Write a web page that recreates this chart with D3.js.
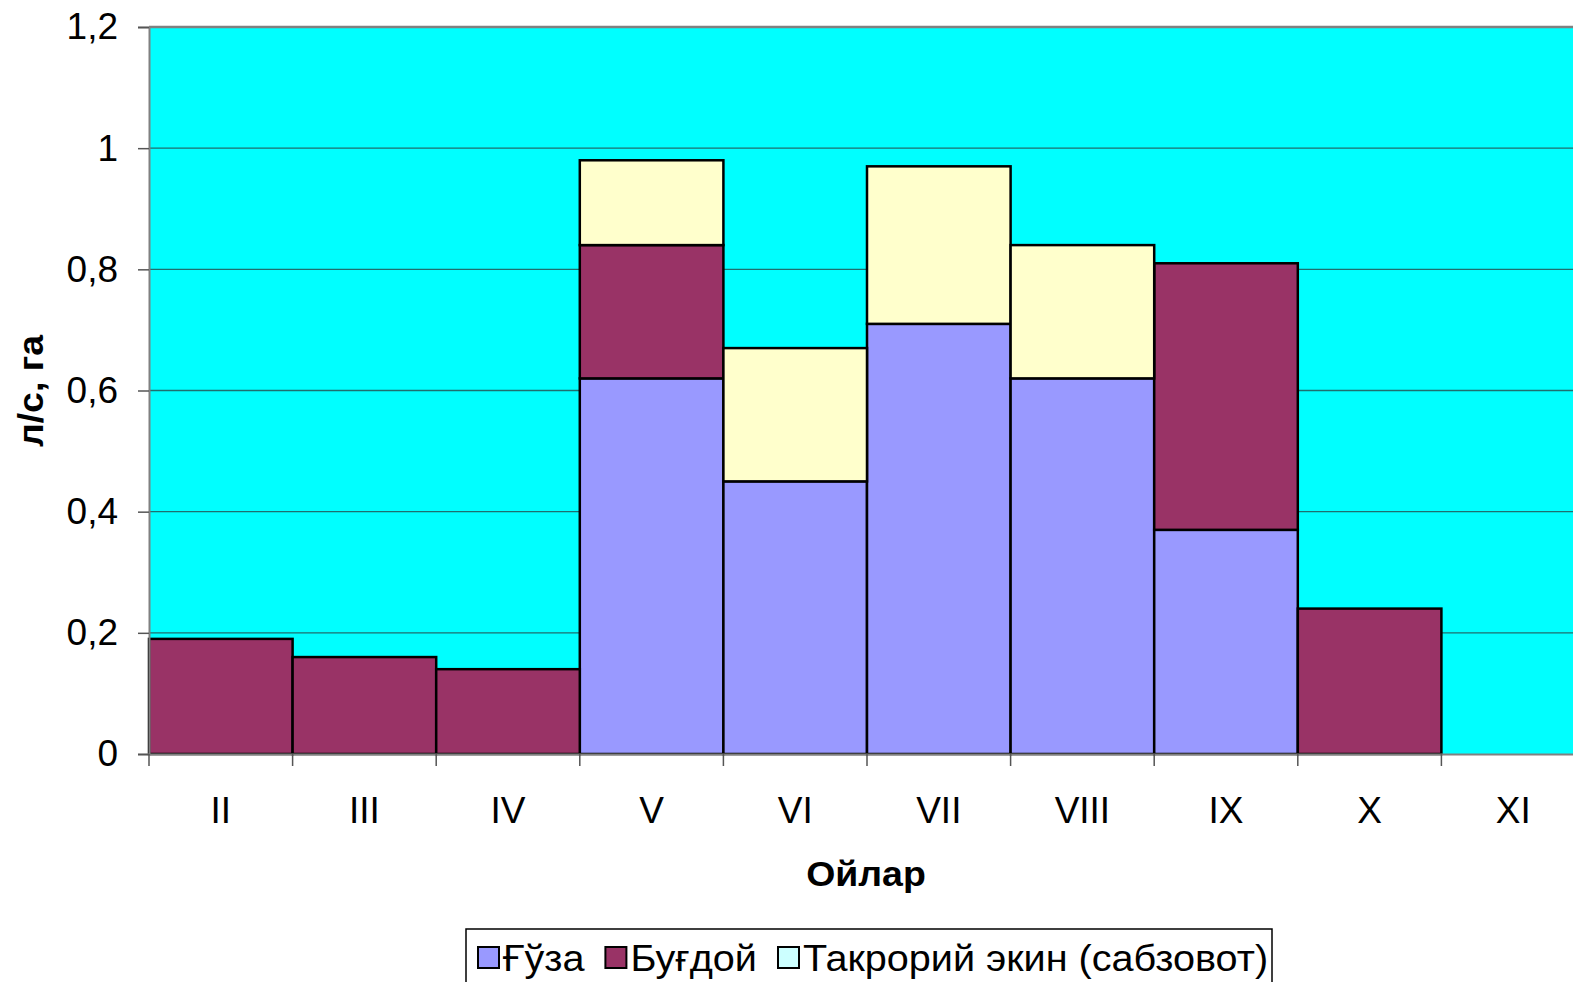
<!DOCTYPE html>
<html>
<head>
<meta charset="utf-8">
<script src="https://cdn.jsdelivr.net/npm/d3@7"></script>
<style>
  body { margin: 0; background: #fff; }
  svg { display: block; font-family: "Liberation Sans", Arial, sans-serif; }
</style>
</head>
<body>
<div id="chart"></div>
<script>
// данные графика
const months = ['II', 'III', 'IV', 'V', 'VI', 'VII', 'VIII', 'IX', 'X', 'XI'];
const guza = [0, 0, 0, 0.62, 0.45, 0.71, 0.62, 0.37, 0, 0];
const bugdoy = [0.19, 0.16, 0.14, 0.22, 0, 0, 0, 0.44, 0.24, 0];
const takroriy = [0, 0, 0, 0.14, 0.22, 0.26, 0.22, 0, 0, 0];
const seriesNames = ['Ғўза', 'Буғдой', 'Такрорий экин (сабзовот)'];
const yTicks = [0, 0.2, 0.4, 0.6, 0.8, 1, 1.2];

const width = 1573, height = 982;
const plotLeft = 149, plotTop = 27, plotBottom = 754;
const bandW = 143.6;
const stretch = 1.07; // шрифт в оригинале чуть шире

const svg = d3.select('#chart').append('svg')
  .attr('width', width).attr('height', height);

const x = d3.scaleBand().domain(months).range([plotLeft, plotLeft + bandW * months.length]).padding(0);
const y = d3.scaleLinear().domain([0, 1.2]).range([plotBottom, plotTop]);

function widen(sel) {
  sel.each(function () {
    const w = this.getComputedTextLength();
    d3.select(this).attr('textLength', w * stretch).attr('lengthAdjust', 'spacingAndGlyphs');
  });
}

// фон области построения
svg.append('rect')
  .attr('x', plotLeft).attr('y', plotTop)
  .attr('width', bandW * months.length).attr('height', plotBottom - plotTop)
  .attr('fill', '#00FFFF');

// линии сетки
svg.append('g').selectAll('line')
  .data(yTicks.filter(d => d > 0 && d < 1.2))
  .enter().append('line')
  .attr('x1', plotLeft).attr('x2', plotLeft + bandW * months.length)
  .attr('y1', d => y(d)).attr('y2', d => y(d))
  .attr('stroke', '#1f6f6f').attr('stroke-width', 1.3);

// верхняя рамка
svg.append('line')
  .attr('x1', plotLeft).attr('x2', width)
  .attr('y1', plotTop).attr('y2', plotTop)
  .attr('stroke', '#808080').attr('stroke-width', 2.5);

const rows = months.map((m, i) => ({ m: m, g: guza[i], b: bugdoy[i], t: takroriy[i] }));
const stack = d3.stack().keys(['g', 'b', 't']);
const colors = { g: '#9999FF', b: '#993366', t: '#FFFFCC' };

svg.append('g').selectAll('g')
  .data(stack(rows))
  .enter().append('g')
  .attr('fill', s => colors[s.key])
  .selectAll('rect')
  .data(s => s.filter(d => d[1] - d[0] > 0))
  .enter().append('rect')
  .attr('x', d => x(d.data.m))
  .attr('y', d => y(d[1]))
  .attr('width', x.bandwidth())
  .attr('height', d => y(d[0]) - y(d[1]))
  .attr('stroke', '#000').attr('stroke-width', 2.5);

// оси
const yAxis = svg.append('g')
  .attr('transform', `translate(${plotLeft},0)`)
  .call(d3.axisLeft(y).tickValues(yTicks).tickSize(11).tickPadding(20)
    .tickFormat(d => String(+d.toFixed(1)).replace('.', ',')));
yAxis.select('.domain').attr('stroke', '#808080').attr('stroke-width', 2);
yAxis.selectAll('.tick line').attr('stroke', '#555').attr('stroke-width', 1.5);
yAxis.selectAll('text').attr('font-size', 37).attr('fill', '#000')
  .attr('font-family', '"Liberation Sans", Arial, sans-serif');

const xAxis = svg.append('g')
  .attr('transform', `translate(0,${plotBottom})`)
  .call(d3.axisBottom(x).tickSize(0).tickPadding(43));
xAxis.select('.domain').attr('stroke', '#808080').attr('stroke-width', 2);
xAxis.selectAll('text').attr('font-size', 37).attr('fill', '#000')
  .attr('font-family', '"Liberation Sans", Arial, sans-serif');

// засечки между категориями
svg.append('g').selectAll('line')
  .data(months)
  .enter().append('line')
  .attr('x1', d => x(d)).attr('x2', d => x(d))
  .attr('y1', plotBottom).attr('y2', plotBottom + 12)
  .attr('stroke', '#555').attr('stroke-width', 1.5);

// подписи осей
svg.append('text')
  .attr('x', 866).attr('y', 886)
  .attr('text-anchor', 'middle')
  .attr('font-size', 35).attr('font-weight', 'bold')
  .text('Ойлар')
  .call(widen);

svg.append('text')
  .attr('transform', 'translate(43,391) rotate(-90)')
  .attr('text-anchor', 'middle')
  .attr('font-size', 35).attr('font-weight', 'bold')
  .text('л/с, га')
  .call(widen);

// легенда
const legend = svg.append('g');
legend.append('rect')
  .attr('x', 466).attr('y', 929).attr('width', 806).attr('height', 60)
  .attr('fill', '#fff').attr('stroke', '#000').attr('stroke-width', 1.5);

const swatch = ['#9999FF', '#993366', '#CCFFFF'];
let lx = 478;
seriesNames.forEach((name, i) => {
  legend.append('rect')
    .attr('x', lx).attr('y', 947).attr('width', 21).attr('height', 21)
    .attr('fill', swatch[i]).attr('stroke', '#000').attr('stroke-width', 2);
  const t = legend.append('text')
    .attr('x', lx + 25).attr('y', 971)
    .attr('font-size', 37)
    .text(name);
  const w = t.node().getComputedTextLength() * stretch;
  t.attr('textLength', w).attr('lengthAdjust', 'spacingAndGlyphs');
  lx += 25 + w + 21;
});
</script>
</body>
</html>
